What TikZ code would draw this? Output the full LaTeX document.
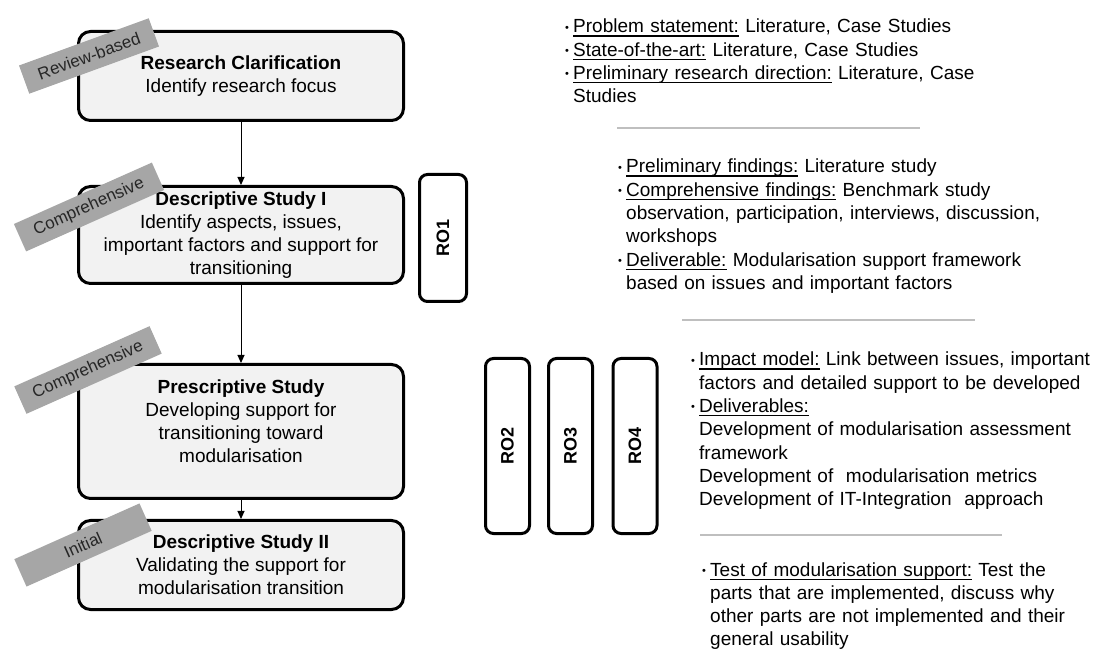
\documentclass[tikz,border=0pt]{standalone}
\usepackage{fontspec}
\setmainfont{Liberation Sans}
\usetikzlibrary{arrows.meta}
\definecolor{BoxFill}{HTML}{F2F2F2}
\definecolor{TagGray}{HTML}{A6A6A6}
\definecolor{TagText}{HTML}{262626}
\definecolor{RuleGray}{HTML}{BFBFBF}
\newcommand\bul{\makebox[8pt][l]{\raisebox{1.8pt}{\fontsize{11}{11}\selectfont\textbullet}}}
\newcommand\ulab[1]{\setbox0\hbox{#1}\rlap{\rule[-3.6pt]{\wd0}{1.1pt}}\box0\relax}
\newcommand\ritem{\hangindent=8pt\hangafter=1\bul}

\begin{document}
\begin{tikzpicture}[x=1pt, y=1pt,
    stage/.style={draw, line width=3pt, rounded corners=12pt, fill=BoxFill, align=center,
        minimum width=325pt, inner sep=0pt, font=\fontsize{19}{23}\selectfont},
    tag/.style={fill=TagGray, text=TagText, minimum height=30pt, inner sep=0pt,
        font=\fontsize{17}{17}\selectfont},
    robox/.style={draw, line width=3pt, rounded corners=8pt, rotate=90, inner sep=0pt,
        font=\fontsize{18}{18}\selectfont\bfseries},
    note/.style={anchor=base west, text width=430pt, inner sep=0pt,
        font=\fontsize{19}{23.3}\selectfont},
    flow/.style={-{Triangle[length=8pt, width=7pt]}, line width=1pt},
    divider/.style={RuleGray, line width=1.5pt}]

\useasboundingbox (0,0) rectangle (1099,653);

% etapas
\node[stage, minimum height=89pt]  (rc)  at (241,577)   {\textbf{Research Clarification}\\Identify research focus};
\node[stage, minimum height=97pt]  (ds1) at (241,418)   {\textbf{Descriptive Study I}\\Identify aspects, issues,\\important factors and support for\\transitioning};
\node[stage, minimum height=134pt] (ps)  at (241,221.5) {\textbf{Prescriptive Study}\\Developing support for\\transitioning toward\\modularisation\\[-3pt]};
\node[stage, minimum height=89pt]  (ds2) at (241,88)    {\textbf{Descriptive Study II}\\Validating the support for\\modularisation transition};

% flechas
\draw[flow] (rc) -- (ds1);
\draw[flow] (ds1) -- (ps);
\draw[flow] (ps) -- (ds2);

% etiquetas
\node[tag, minimum width=138pt, rotate=20] (t1) at (89,597) {Review-based};
\node[tag, minimum width=151pt, rotate=24] (t2) at (89,446) {Comprehensive};
\node[tag, minimum width=148pt, rotate=24] (t3) at (88,283) {Comprehensive};
\node[tag, minimum width=137pt, rotate=24] (t4) at (83,108) {Initial};

% objetivos
\node[robox, minimum width=127pt, minimum height=47pt] (ro1) at (443,415) {RO1};
\foreach \x/\n in {507.5/2, 570.5/3, 635/4}
    \node[robox, minimum width=175pt, minimum height=44pt] (ro\n) at (\x,207) {RO\n};

% notas
\node[note] (n1) at (565,620) {%
    \ritem\ulab{Problem statement:} Literature, Case Studies\par
    \ritem\ulab{State-of-the-art:} Literature, Case Studies\par
    \ritem\ulab{Preliminary research direction:} Literature, Case\newline Studies\par};
\draw[divider] (617,525) -- (920,525);

\node[note] (n2) at (618,480) {%
    \ritem\ulab{Preliminary findings:} Literature study\par
    \ritem\ulab{Comprehensive findings:} Benchmark study\newline observation, participation, interviews, discussion,\newline workshops\par
    \ritem\ulab{Deliverable:} Modularisation support framework\newline based on issues and important factors\par};
\draw[divider] (682,333) -- (975,333);

\node[note] (n3) at (691,287) {%
    \ritem\ulab{Impact model:} Link between issues, important\newline factors and detailed support to be developed\par
    \ritem\ulab{Deliverables:}\newline Development of modularisation assessment\newline framework\newline Development of~ modularisation metrics\newline Development of IT-Integration~ approach\par};
\draw[divider] (700,118) -- (1002,118);

\node[note] (n4) at (702,77) {%
    \ritem\ulab{Test of modularisation support:} Test the\newline parts that are implemented, discuss why\newline other parts are not implemented and their\newline general usability\par};

\end{tikzpicture}
\end{document}
